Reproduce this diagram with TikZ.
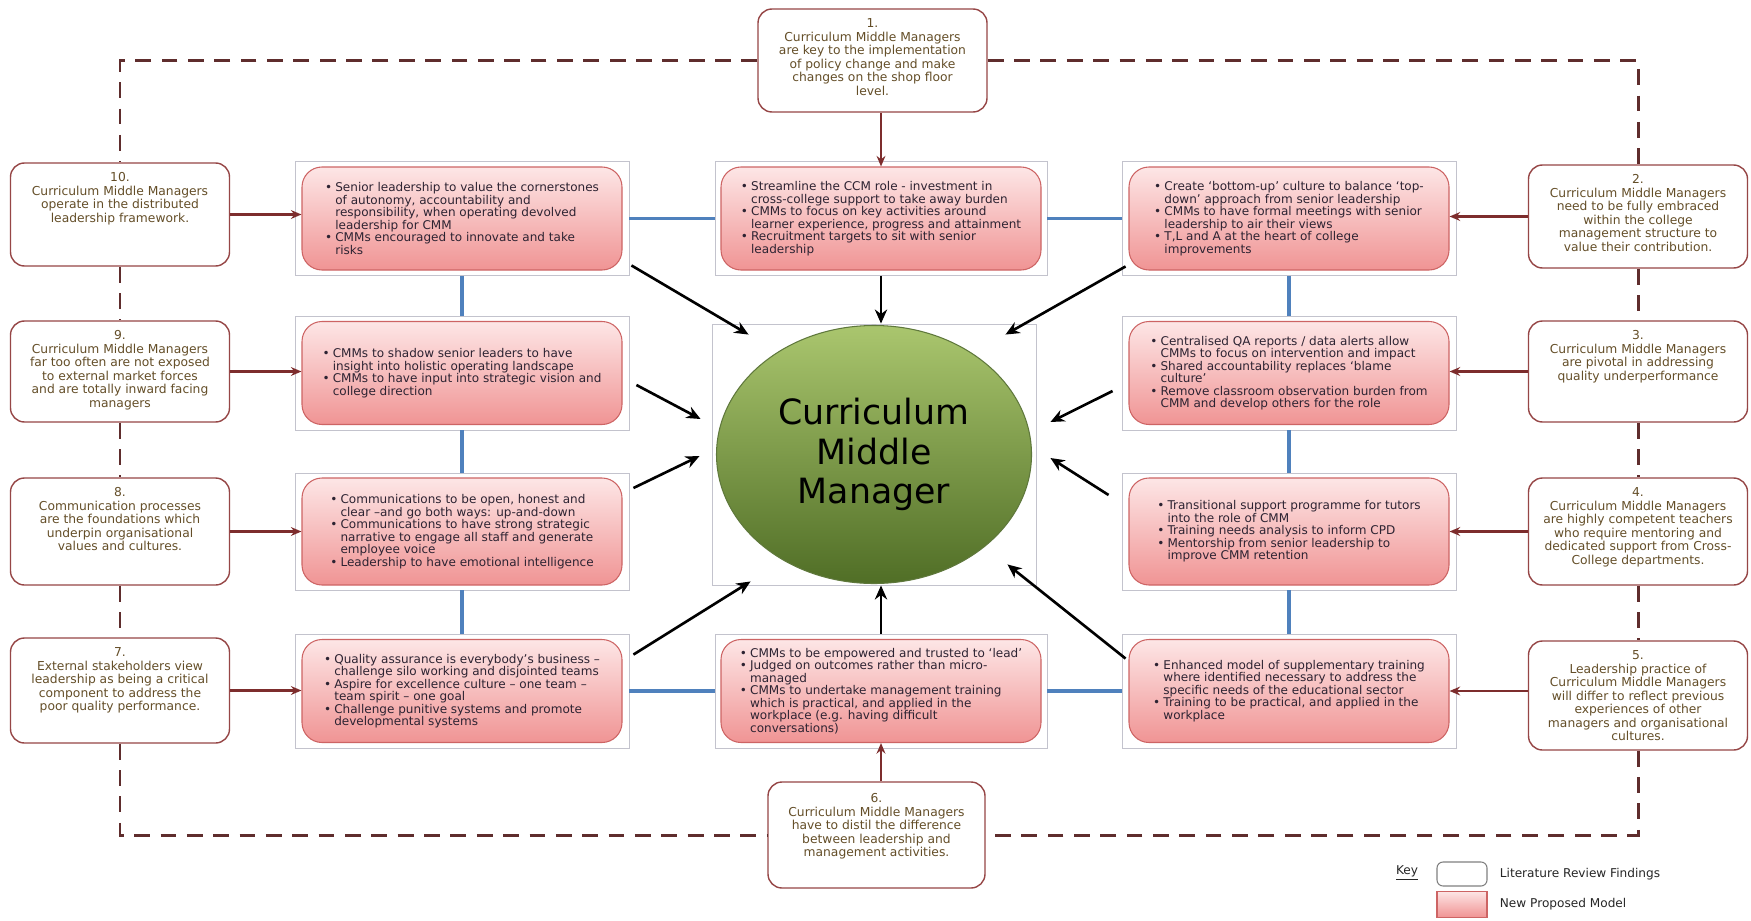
\documentclass[tikz,border=0pt]{standalone}
\usepackage{fontspec}
\setmainfont{DejaVu Sans}
\usetikzlibrary{shapes.geometric, arrows.meta, positioning}

\definecolor{litborder}{RGB}{150,70,70}
\definecolor{littext}{RGB}{100,78,40}
\definecolor{pinktop}{RGB}{253,230,230}
\definecolor{pinkbot}{RGB}{240,148,148}
\definecolor{pinkedge}{RGB}{205,100,100}
\definecolor{pinktext}{RGB}{45,35,50}
\definecolor{framegray}{RGB}{195,195,205}
\definecolor{linkblue}{RGB}{79,129,189}
\definecolor{dashbrown}{RGB}{95,45,45}
\definecolor{arrowbrown}{RGB}{125,45,45}
\definecolor{greentop}{RGB}{170,198,110}
\definecolor{greenbot}{RGB}{80,110,38}
\definecolor{greenedge}{RGB}{95,120,60}

\newcommand{\bul}{\makebox[0.85em][l]{\textbullet}}
\newcommand{\cont}{\hspace*{0.85em}}

\begin{document}
\begin{tikzpicture}[
    x=1cm, y=1cm,
    finding/.style={draw=litborder, line width=0.8pt, rounded corners=0.28cm, fill=white, minimum width=4.38cm, minimum height=2.06cm},
    findtext/.style={align=center, inner sep=0pt, text=littext, font=\fontsize{7}{7.7}\selectfont},
    modelframe/.style={draw=framegray, line width=0.5pt, fill=white, minimum width=6.68cm, minimum height=2.28cm},
    model/.style={draw=pinkedge, line width=0.6pt, rounded corners=0.4cm, top color=pinktop, bottom color=pinkbot, minimum width=6.40cm, minimum height=2.06cm, align=left, text=pinktext, font=\fontsize{6.85}{7.1}\selectfont},
    link/.style={draw=linkblue, line width=1.9pt},
    feed/.style={->, >={Stealth[length=6pt, width=5pt]}, draw=arrowbrown, line width=1.2pt},
    toarrow/.style={->, >={Stealth[length=8pt, width=7pt]}, line width=1.5pt},
    ring/.style={draw=dashbrown, line width=1.7pt, dash pattern=on 9pt off 6pt},
    keyfont/.style={font=\fontsize{6.9}{8}\selectfont, text=black!85, inner sep=0pt}
]
    \path[use as bounding box, fill=white] (0,0) rectangle (35.02,-18.42);

    % Literature review findings
    \node[finding, minimum width=4.58cm] (find1) at (17.45,-1.21) {};
    \node[findtext, below=0.2cm of find1.north] (find1txt) {1.\\Curriculum Middle Managers\\are key to the implementation\\of policy change and make\\changes on the shop floor\\level.};

    \node[finding] (find2) at (32.76,-4.33) {};
    \node[findtext, below=0.2cm of find2.north] (find2txt) {2.\\Curriculum Middle Managers\\need to be fully embraced\\within the college\\management structure to\\value their contribution.};

    \node[finding, minimum height=2.02cm] (find3) at (32.76,-7.43) {};
    \node[findtext, below=0.2cm of find3.north] (find3txt) {3.\\Curriculum Middle Managers\\are pivotal in addressing\\quality underperformance};

    \node[finding, minimum height=2.14cm] (find4) at (32.76,-10.63) {};
    \node[findtext, below=0.2cm of find4.north] (find4txt) {4.\\Curriculum Middle Managers\\are highly competent teachers\\who require mentoring and\\dedicated support from Cross-\\College departments.};

    \node[finding, minimum height=2.18cm] (find5) at (32.76,-13.91) {};
    \node[findtext, below=0.2cm of find5.north] (find5txt) {5.\\Leadership practice of\\Curriculum Middle Managers\\will differ to reflect previous\\experiences of other\\managers and organisational\\cultures.};

    \node[finding, minimum width=4.34cm, minimum height=2.12cm] (find6) at (17.53,-16.70) {};
    \node[findtext, below=0.24cm of find6.north] (find6txt) {6.\\Curriculum Middle Managers\\have to distil the difference\\between leadership and\\management activities.};

    \node[finding, minimum height=2.10cm] (find7) at (2.40,-13.81) {};
    \node[findtext, below=0.2cm of find7.north] (find7txt) {7.\\External stakeholders view\\leadership as being a critical\\component to address the\\poor quality performance.};

    \node[finding, minimum height=2.14cm] (find8) at (2.40,-10.63) {};
    \node[findtext, below=0.2cm of find8.north] (find8txt) {8.\\Communication processes\\are the foundations which\\underpin organisational\\values and cultures.};

    \node[finding, minimum height=2.02cm] (find9) at (2.40,-7.43) {};
    \node[findtext, below=0.2cm of find9.north] (find9txt) {9.\\Curriculum Middle Managers\\far too often are not exposed\\to external market forces\\and are totally inward facing\\managers};

    \node[finding] (find10) at (2.40,-4.29) {};
    \node[findtext, below=0.2cm of find10.north] (find10txt) {10.\\Curriculum Middle Managers\\operate in the distributed\\leadership framework.};

    % New proposed model
    \node[modelframe] (leadfr) at (9.24,-4.37) {};
    \node[model] (lead) at (leadfr) {\bul Senior leadership to value the cornerstones\\ \cont of autonomy, accountability and\\ \cont responsibility, when operating devolved\\ \cont leadership for CMM\\ \bul CMMs encouraged to  innovate and take\\ \cont risks};

    \node[modelframe, minimum width=6.64cm] (streamfr) at (17.62,-4.37) {};
    \node[model] (stream) at (streamfr) {\bul Streamline the CCM role - investment in\\ \cont cross-college support to take away burden\\ \bul CMMs to focus on key activities around\\ \cont learner experience, progress and attainment\\ \bul Recruitment targets to sit with senior\\ \cont leadership};

    \node[modelframe] (bottomupfr) at (25.78,-4.37) {};
    \node[model] (bottomup) at (bottomupfr) {\bul Create ‘bottom-up’ culture to balance ‘top-\\ \cont down’ approach from senior leadership\\ \bul CMMs to have formal meetings with senior\\ \cont leadership to air their views\\ \bul T,L and A at the heart of college\\ \cont improvements};

    \node[modelframe] (shadowfr) at (9.24,-7.46) {};
    \node[model] (shadow) at (shadowfr) {\bul CMMs to shadow senior leaders to have\\ \cont insight into holistic operating landscape\\ \bul CMMs to have input into strategic vision and\\ \cont college direction};

    \node[modelframe] (qafr) at (25.78,-7.46) {};
    \node[model] (qa) at (qafr) {\bul Centralised QA reports / data alerts allow\\ \cont CMMs to focus on intervention and impact\\ \bul Shared accountability replaces ‘blame\\ \cont culture’\\ \bul Remove classroom observation burden from\\ \cont CMM and develop others for the role};

    \node[modelframe, minimum height=2.34cm] (commsfr) at (9.24,-10.63) {};
    \node[model, minimum height=2.14cm] (comms) at (commsfr) {\bul Communications to be open, honest and\\ \cont clear –and go both ways: up-and-down\\ \bul Communications to have strong strategic\\ \cont narrative to engage all staff and generate\\ \cont employee voice\\ \bul Leadership to have emotional intelligence};

    \node[modelframe, minimum height=2.34cm] (transitfr) at (25.78,-10.63) {};
    \node[model, minimum height=2.14cm] (transit) at (transitfr) {\bul Transitional support programme for tutors\\ \cont into the role of CMM\\ \bul Training needs analysis to inform CPD\\ \bul Mentorship from senior leadership to\\ \cont improve CMM retention};

    \node[modelframe] (qualityfr) at (9.24,-13.82) {};
    \node[model] (quality) at (qualityfr) {\bul Quality assurance is everybody’s business –\\ \cont challenge silo working and disjointed teams\\ \bul Aspire for excellence culture – one team –\\ \cont team spirit – one goal\\ \bul Challenge punitive systems and promote\\ \cont developmental systems};

    \node[modelframe, minimum width=6.64cm] (empowerfr) at (17.62,-13.82) {};
    \node[model] (empower) at (empowerfr) {\bul CMMs to be empowered and trusted to ‘lead’\\ \bul Judged on outcomes rather than micro-\\ \cont managed\\ \bul CMMs to undertake management training\\ \cont which is practical, and applied in the\\ \cont workplace (e.g. having difficult\\ \cont conversations)};

    \node[modelframe] (trainingfr) at (25.78,-13.82) {};
    \node[model] (training) at (trainingfr) {\bul Enhanced model of supplementary training\\ \cont where identified necessary to address the\\ \cont specific needs of the educational sector\\ \bul Training to be practical, and applied in the\\ \cont workplace};

    % Centre
    \node[draw=framegray, line width=0.5pt, fill=white, minimum width=6.48cm, minimum height=5.22cm] (cmmfr) at (17.48,-9.09) {};
    \node[ellipse, draw=greenedge, line width=0.6pt, top color=greentop, bottom color=greenbot, minimum width=6.30cm, minimum height=5.16cm, inner sep=0pt, align=center, font=\fontsize{19.8}{22.5}\selectfont] (cmm) at (cmmfr) {Curriculum\\Middle\\Manager};

    % Dashed loop through the findings
    \draw[ring] (find1.west) -| (find10.north);
    \draw[ring] (find10.south) -- (find9.north);
    \draw[ring] (find9.south) -- (find8.north);
    \draw[ring] (find8.south) -- (find7.north);
    \draw[ring] (find7.south) |- (find6.west);
    \draw[ring] (find1.east) -| (find2.north);
    \draw[ring] (find2.south) -- (find3.north);
    \draw[ring] (find3.south) -- (find4.north);
    \draw[ring] (find4.south) -- (find5.north);
    \draw[ring] (find5.south) |- (find6.east);

    % Blue links between model boxes
    \draw[link] (leadfr.east) -- (streamfr.west);
    \draw[link] (streamfr.east) -- (bottomupfr.west);
    \draw[link] (leadfr.south) -- (shadowfr.north);
    \draw[link] (shadowfr.south) -- (commsfr.north);
    \draw[link] (commsfr.south) -- (qualityfr.north);
    \draw[link] (bottomupfr.south) -- (qafr.north);
    \draw[link] (qafr.south) -- (transitfr.north);
    \draw[link] (transitfr.south) -- (trainingfr.north);
    \draw[link] (qualityfr.east) -- (empowerfr.west);
    \draw[link] (empowerfr.east) -- (trainingfr.west);

    % Findings feed the model
    \draw[feed] (find1.south -| stream.north) -- (stream.north);
    \draw[feed] (find6.north -| empower.south) -- (empower.south);
    \draw[feed] (find10.east) -- (find10.east -| lead.west);
    \draw[feed] (find9.east) -- (find9.east -| shadow.west);
    \draw[feed] (find8.east) -- (find8.east -| comms.west);
    \draw[feed] (find7.east) -- (find7.east -| quality.west);
    \draw[feed] (find2.west) -- (find2.west -| bottomup.east);
    \draw[feed] (find3.west) -- (find3.west -| qa.east);
    \draw[feed] (find4.west) -- (find4.west -| transit.east);
    \draw[feed] (training.east -| find5.west) -- (training.east);

    % Arrows into the centre
    \coordinate (inNW) at ([shift={(0.74,-0.22)}]cmmfr.north west);
    \coordinate (inNE) at ([shift={(-0.62,-0.22)}]cmmfr.north east);
    \coordinate (inWN) at ([shift={(-0.22,0.71)}]cmmfr.west);
    \coordinate (inEN) at ([shift={(0.28,0.65)}]cmmfr.east);
    \coordinate (inWS) at ([shift={(-0.24,-0.03)}]cmmfr.west);
    \coordinate (inES) at ([shift={(0.28,-0.07)}]cmmfr.east);
    \coordinate (inSW) at ([shift={(0.78,0.08)}]cmmfr.south west);
    \coordinate (inSE) at ([shift={(-0.58,0.42)}]cmmfr.south east);

    \draw[toarrow] (streamfr.south) -- (streamfr.south |- cmmfr.north);
    \draw[toarrow] (empowerfr.north) -- (empowerfr.north |- cmmfr.south);
    \draw[toarrow] ([shift={(0.04,0.21)}]leadfr.south east) -- (inNW);
    \draw[toarrow] ([shift={(0.08,0.19)}]bottomupfr.south west) -- (inNE);
    \draw[toarrow] ([shift={(0.14,-0.24)}]shadowfr.east) -- (inWN);
    \draw[toarrow] ([shift={(-0.18,-0.36)}]qafr.west) -- (inEN);
    \draw[toarrow] ([shift={(0.08,0.87)}]commsfr.east) -- (inWS);
    \draw[toarrow] ([shift={(-0.26,0.73)}]transitfr.west) -- (inES);
    \draw[toarrow] ([shift={(0.08,-0.42)}]qualityfr.north east) -- (inSW);
    \draw[toarrow] ([shift={(0.08,-0.50)}]trainingfr.north west) -- (inSE);

    % Key
    \node[keyfont] (key) at (28.14,-17.46) {\underline{Key}};
    \node[draw=gray, line width=0.6pt, rounded corners=0.12cm, fill=white, minimum width=1.0cm, minimum height=0.48cm] (keylit) at (29.24,-17.48) {};
    \node[keyfont, right=0.24cm of keylit] (keylittxt) {Literature Review Findings};
    \node[draw=pinkedge, line width=0.6pt, top color=pinktop, bottom color=pinkbot, minimum width=1.0cm, minimum height=0.52cm, below=0.08cm of keylit] (keynew) {};
    \node[keyfont, right=0.24cm of keynew] (keynewtxt) {New Proposed Model};

\end{tikzpicture}
\end{document}
